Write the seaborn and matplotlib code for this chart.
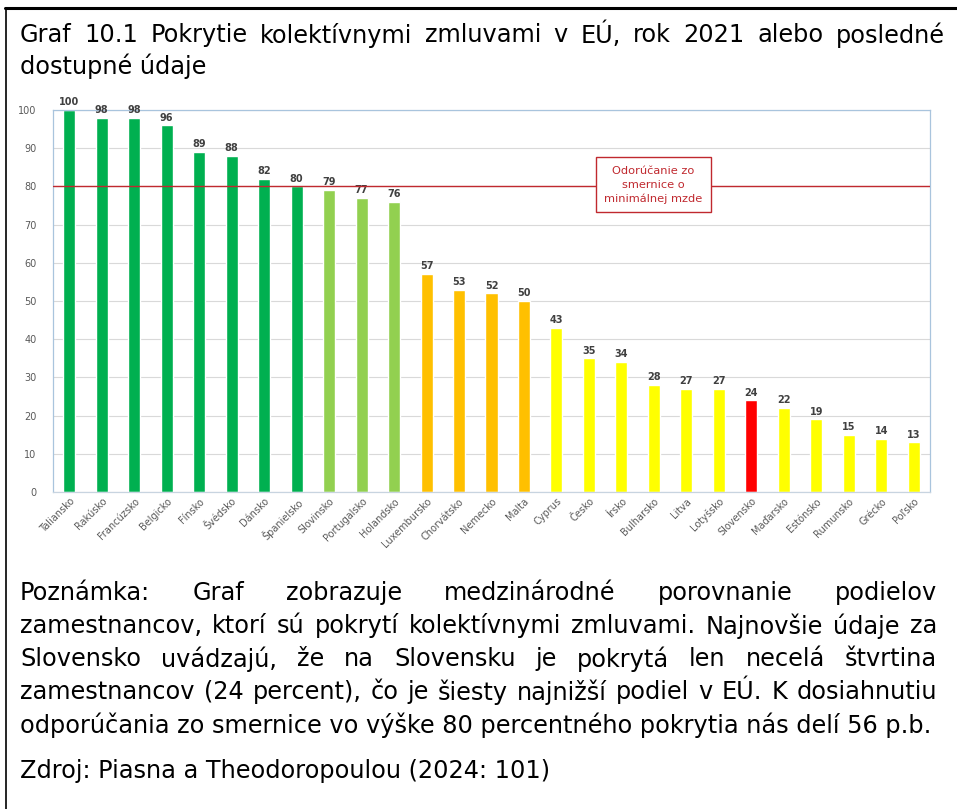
import numpy as np
import pandas as pd
import matplotlib
matplotlib.use('Agg')
import matplotlib.pyplot as plt
import seaborn as sns
from matplotlib.lines import Line2D

countries = ['Taliansko', 'Rakúsko', 'Francúzsko', 'Belgicko', 'Fínsko', 'Švédsko', 'Dánsko',
             'Španielsko', 'Slovinsko', 'Portugalsko', 'Holandsko', 'Luxembursko', 'Chorvátsko',
             'Nemecko', 'Malta', 'Cyprus', 'Česko', 'Írsko', 'Bulharsko', 'Litva', 'Lotyšsko',
             'Slovensko', 'Maďarsko', 'Estónsko', 'Rumunsko', 'Grécko', 'Poľsko']
coverage = [100, 98, 98, 96, 89, 88, 82, 80, 79, 77, 76, 57, 53, 52, 50, 43, 35, 34, 28, 27, 27,
            24, 22, 19, 15, 14, 13]
group = ['high'] * 8 + ['mid'] * 3 + ['low'] * 4 + ['vlow'] * 6 + ['sk'] + ['vlow'] * 5
group_colors = {'high': '#00B050', 'mid': '#92D050', 'low': '#FFC000', 'vlow': '#FFFF00', 'sk': '#FF0000'}
threshold = 80

title_lines = ['Graf 10.1 Pokrytie kolektívnymi zmluvami v EÚ, rok 2021 alebo posledné',
               'dostupné údaje']
note_lines = ['Poznámka: Graf zobrazuje medzinárodné porovnanie podielov',
              'zamestnancov, ktorí sú pokrytí kolektívnymi zmluvami. Najnovšie údaje za',
              'Slovensko uvádzajú, že na Slovensku je pokrytá len necelá štvrtina',
              'zamestnancov (24 percent), čo je šiesty najnižší podiel v EÚ. K dosiahnutiu',
              'odporúčania zo smernice vo výške 80 percentného pokrytia nás delí 56 p.b.']
source = 'Zdroj: Piasna a Theodoropoulou (2024: 101)'
box_text = 'Odorúčanie zo\nsmernice o\nminimálnej mzde'

df = pd.DataFrame({'krajina': countries, 'pokrytie': coverage})

sns.set_style('white')
plt.rcParams['font.family'] = ['DejaVu Sans']

W, H = 957, 809
fig = plt.figure(figsize=(W / 100, H / 100), dpi=100)
ax = fig.add_axes([53 / W, 1 - 492 / H, (930 - 53) / W, (492 - 110) / H])

sns.barplot(data=df, x='krajina', y='pokrytie', hue='krajina',
            palette=[group_colors[g] for g in group], legend=False, width=0.37,
            saturation=1, ax=ax)

ax.set_ylim(0, 100)
ax.set_xlim(-0.5, len(countries) - 0.5)
ax.set_yticks(range(0, 101, 10))
ax.yaxis.grid(True, color='#D9D9D9', linewidth=0.8)
ax.set_axisbelow(True)
ax.set_xlabel('')
ax.set_ylabel('')
for s in ax.spines.values():
    s.set_color('#A9C4DD')
    s.set_linewidth(0.9)
ax.spines['bottom'].set_color('#C8D4E0')
ax.tick_params(axis='y', labelsize=7, colors='#595959', length=0, pad=12)
ax.tick_params(axis='x', labelsize=7, colors='#595959', length=0, pad=3)
plt.setp(ax.get_xticklabels(), rotation=45, ha='right', rotation_mode='anchor')

for i, v in enumerate(coverage):
    ax.annotate(str(v), (i, v), xytext=(0, 2), textcoords='offset points',
                ha='center', va='bottom', fontsize=7, fontweight='bold', color='#404040',
                annotation_clip=False)

ax.axhline(threshold, color='#C0292F', linewidth=1, zorder=3)
bx = ax.transData.inverted().transform(fig.transFigure.transform((653.5 / W, 0)))[0]
ax.text(bx, 80.4, box_text, ha='center', va='center', fontsize=8.2, color='#C0292F',
        linespacing=1.45, zorder=4,
        bbox=dict(boxstyle='square,pad=0.75', facecolor='white', edgecolor='#C0292F', linewidth=1))

# frame of the page
fig.add_artist(Line2D([5 / W, 1], [1 - 8 / H, 1 - 8 / H], color='black', linewidth=2.2))
fig.add_artist(Line2D([6 / W, 6 / W], [0, 1 - 8 / H], color='black', linewidth=1.2))

renderer = fig.canvas.get_renderer()
fs = 17.3


def put_line(text, y, justify, x0=20, x1=937):
    words = text.split()
    if not justify or len(words) < 2:
        fig.text(x0 / W, 1 - y / H, text, fontsize=fs, va='center', ha='left', color='black')
        return
    objs = [fig.text(0, 1 - y / H, w, fontsize=fs, va='center', ha='left', color='black') for w in words]
    widths = [o.get_window_extent(renderer).width for o in objs]
    gap = (x1 - x0 - sum(widths)) / (len(words) - 1)
    x = x0
    for o, wd in zip(objs, widths):
        o.set_x(x / W)
        x += wd + gap


put_line(title_lines[0], 35, True, 20, 945)
put_line(title_lines[1], 66, False)
for k, line in enumerate(note_lines):
    put_line(line, 593 + 33 * k, k < len(note_lines) - 1)
put_line(source, 771, False)

fig.savefig('out.png', dpi=100, facecolor='white')
